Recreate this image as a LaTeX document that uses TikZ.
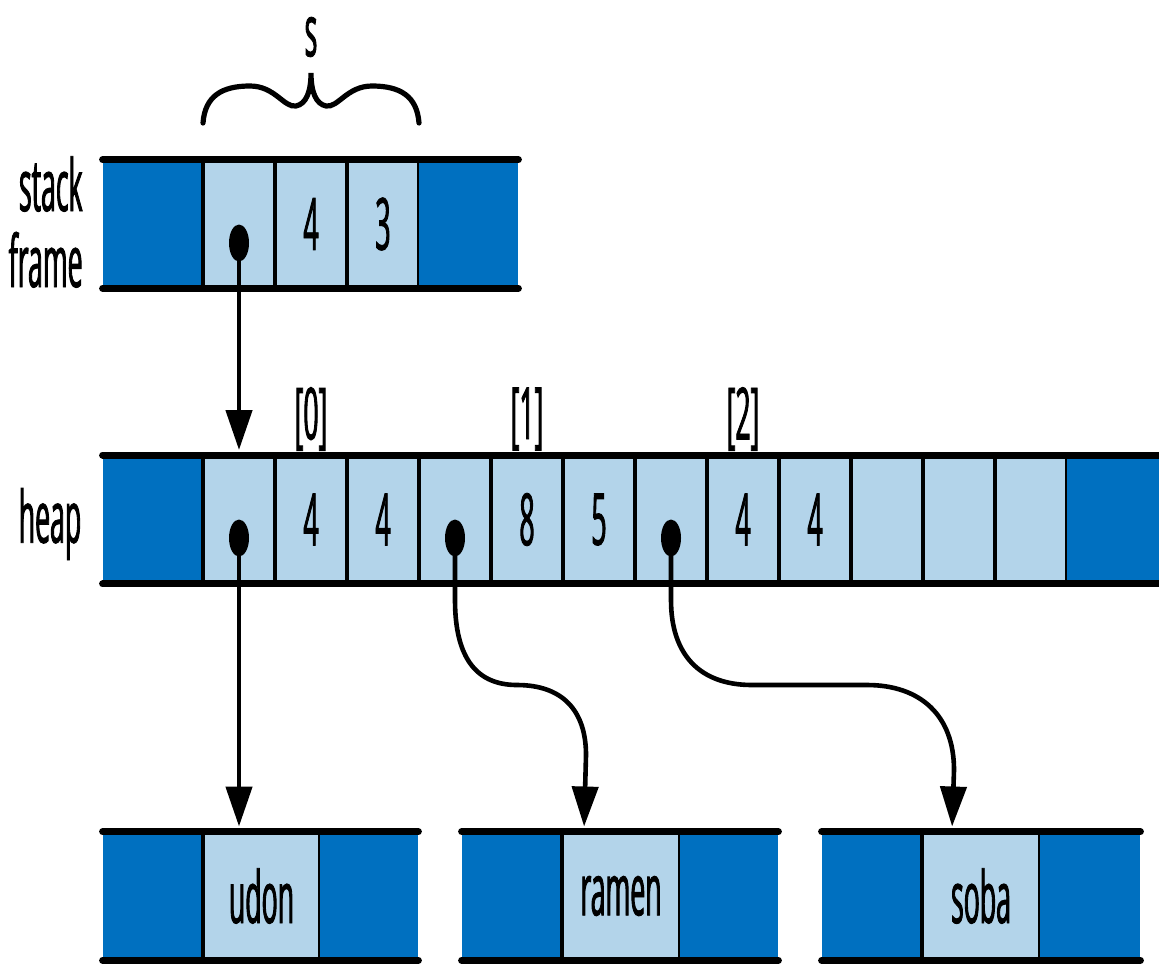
\documentclass[tikz,border=0pt]{standalone}
\usepackage{fontspec}
\setmainfont{Open Sans}[FakeStretch=0.37,FakeBold=1.2]
\usetikzlibrary{arrows.meta,shapes.geometric,calc}
\definecolor{dkblue}{RGB}{0,112,192}
\definecolor{ltblue}{RGB}{179,212,234}
\begin{document}
\begin{tikzpicture}[x=0.5pt,y=-0.5pt,
  txt/.style={font=\fontsize{36}{38}\selectfont,inner sep=0},
  dark/.style={rectangle,fill=dkblue,inner sep=0,minimum height=64pt,minimum width=50pt},
  light/.style={rectangle,fill=ltblue,draw=black,line width=2pt,inner sep=0,minimum height=64pt,minimum width=36pt,font=\fontsize{36}{38}\selectfont},
  wide/.style={light,minimum width=58.5pt},
  rail/.style={line width=3.5pt,line cap=round},
  dot/.style={ellipse,fill=black,inner sep=0,minimum width=10pt,minimum height=18.5pt},
  ptr/.style={line width=2.3pt,-{Triangle[length=20pt,width=13pt]},shorten >=1.75pt},
  brace/.style={line width=2.6pt,line cap=round}]
\useasboundingbox (0,0) rectangle (1159,963);

% ---- stack frame ----
\node[dark] (s0) at (153,224) {};
\node[light] (s1) at (239,224) {};
\node[light] (s2) at (311,224) {\raisebox{-3pt}{4}};
\node[light] (s3) at (383,224) {\raisebox{-3pt}{3}};
\node[dark,minimum width=49.5pt] (s4) at (468.5,224) {};
\draw[rail] (s0.north west) -- (s4.north east);
\draw[rail] (s0.south west) -- (s4.south east);
\node[txt,align=right,anchor=east] (lstack) at (83,222) {stack\\frame};

% brace and s
\draw[brace] (203,123) .. controls (205,96) and (222,86) .. (250,86)
  .. controls (275,86) and (284,108) .. (296,106)
  .. controls (306,104) and (311,92) .. (311,73)
  .. controls (311,92) and (316,104) .. (326,106)
  .. controls (338,108) and (347,86) .. (372,86)
  .. controls (400,86) and (417,96) .. (419,123);
\node[txt] (ls) at (311,37) {s};

% ---- heap ----
\node[dark] (h0) at (153,519.5) {};
\node[light] (h1) at (239,519.5) {};
\node[light] (h2) at (311,519.5) {4};
\node[light] (h3) at (383,519.5) {4};
\node[light] (h4) at (455,519.5) {};
\node[light] (h5) at (527,519.5) {8};
\node[light] (h6) at (599,519.5) {5};
\node[light] (h7) at (671,519.5) {};
\node[light] (h8) at (743,519.5) {4};
\node[light] (h9) at (815,519.5) {4};
\node[light] (h10) at (887,519.5) {};
\node[light] (h11) at (959,519.5) {};
\node[light] (h12) at (1031,519.5) {};
\node[dark,minimum width=51.5pt] (h13) at (1118.5,519.5) {};
\draw[rail] (h0.north west) -- (h13.north east);
\draw[rail] (h0.south west) -- (h13.south east);
\node[txt] (lheap) at (50,524) {heap};
\node[txt] (i0) at (311,419) {[0]};
\node[txt] (i1) at (527,419) {[1]};
\node[txt] (i2) at (743,419) {[2]};

% ---- strings ----
\node[dark] (u0) at (153,896) {};
\node[wide] (u1) at (261.5,896) {udon};
\node[dark,minimum width=49pt] (u2) at (369,896) {};
\draw[rail] (u0.north west) -- (u2.north east);
\draw[rail] (u0.south west) -- (u2.south east);

\node[dark] (r0) at (512,896) {};
\node[wide,minimum width=59pt] (r1) at (621,896) {ramen};
\node[dark,minimum width=49pt] (r2) at (729,896) {};
\draw[rail] (r0.north west) -- (r2.north east);
\draw[rail] (r0.south west) -- (r2.south east);

\node[dark] (b0) at (872,896) {};
\node[wide,minimum width=59pt] (b1) at (981,896) {soba};
\node[dark] (b2) at (1090,896) {};
\draw[rail] (b0.north west) -- (b2.north east);
\draw[rail] (b0.south west) -- (b2.south east);

% ---- pointers ----
\node[dot] (sd) at (239,243) {};
\node[dot] (hd1) at (239,538) {};
\node[dot] (hd4) at (455,538) {};
\node[dot] (hd7) at (671,538) {};

\coordinate (rtip) at ($(r1.north west)+(24,0)$);
\coordinate (btip) at ($(b1.north west)+(32,0)$);
% ramen curve points
\coordinate (ra) at (455,600);
\coordinate (rb) at (517,685);
\coordinate (rc) at (586,755);
% soba curve points
\coordinate (ba) at (671,600);
\coordinate (bb) at (752,685);
\coordinate (bc) at (867,685);
\coordinate (bd) at (954,770);

\draw[ptr] (sd.center) -- (h1.north);
\draw[ptr] (hd1.center) -- (hd1.center |- u1.north);
\draw[ptr] (hd4.center) -- (ra) .. controls (455,660) and (478,685) .. (rb)
  .. controls (562,685) and (586,710) .. (rc) -- (rtip);
\draw[ptr] (hd7.center) -- (ba) .. controls (671,655) and (700,685) .. (bb)
  -- (bc) .. controls (920,685) and (954,715) .. (bd) -- (btip);
\end{tikzpicture}
\end{document}
